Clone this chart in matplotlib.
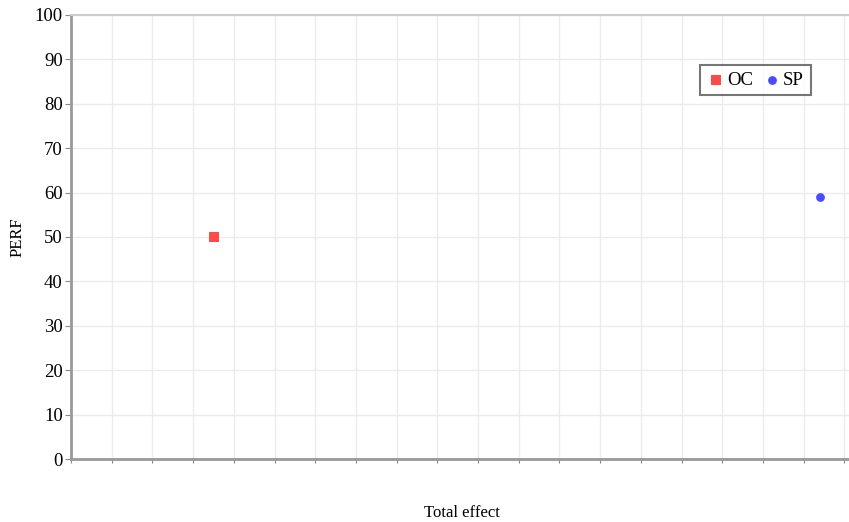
import numpy as np
import matplotlib.pyplot as plt

# data
series = ['OC', 'SP']
x_vals = [3.51, 18.4]
y_vals = [50, 59]
colors = ['#ff4a4a', '#4a4aff']
markers = ['s', 'o']

y_ticks = list(range(0, 101, 10))

plt.rcParams['font.family'] = ['Liberation Serif', 'DejaVu Serif']

fig = plt.figure(figsize=(8.49, 5.22), dpi=100)
ax = fig.add_axes([71 / 849, 1 - 459 / 522, 778 / 849, 444 / 522])

for name, x, y, c, m in zip(series, x_vals, y_vals, colors, markers):
    ax.scatter([x], [y], c=c, marker=m, s=50 if m == 's' else 40,
               label=name, zorder=3, linewidths=0)

ax.set_xlim(0, 778 / 40.7)
ax.set_ylim(0, 100)
ax.set_xticks(np.arange(0, 20, 1))
ax.set_xticklabels([])
ax.set_yticks(y_ticks)
ax.tick_params(axis='y', labelsize=13.5, length=4, color='#888888', pad=2)
ax.tick_params(axis='x', length=3, color='#888888', direction='out')
ax.grid(True, color='#ebebeb', linewidth=1)
ax.set_axisbelow(True)

ax.spines['right'].set_visible(False)
ax.spines['top'].set_color('#cccccc')
ax.spines['top'].set_linewidth(1.5)
ax.spines['left'].set_color('#999999')
ax.spines['left'].set_linewidth(2)
ax.spines['bottom'].set_color('#999999')
ax.spines['bottom'].set_linewidth(2)

fig.text(18 / 849, 1 - 237 / 522, 'PERF', rotation=90, ha='center', va='center', fontsize=12)
fig.text(462 / 849, 1 - 513 / 522, 'Total effect', ha='center', va='center', fontsize=12)

leg = ax.legend(loc='upper left', bbox_to_anchor=((700 - 71) / 778, 1 - (65 - 15) / 444),
                ncol=2, fontsize=13.5, frameon=True, fancybox=False,
                handletextpad=0.1, columnspacing=0.5, borderpad=0.35,
                handlelength=1.0, borderaxespad=0)
leg.get_frame().set_edgecolor('#555555')
leg.get_frame().set_linewidth(1.5)

fig.savefig('out.png', dpi=100)
